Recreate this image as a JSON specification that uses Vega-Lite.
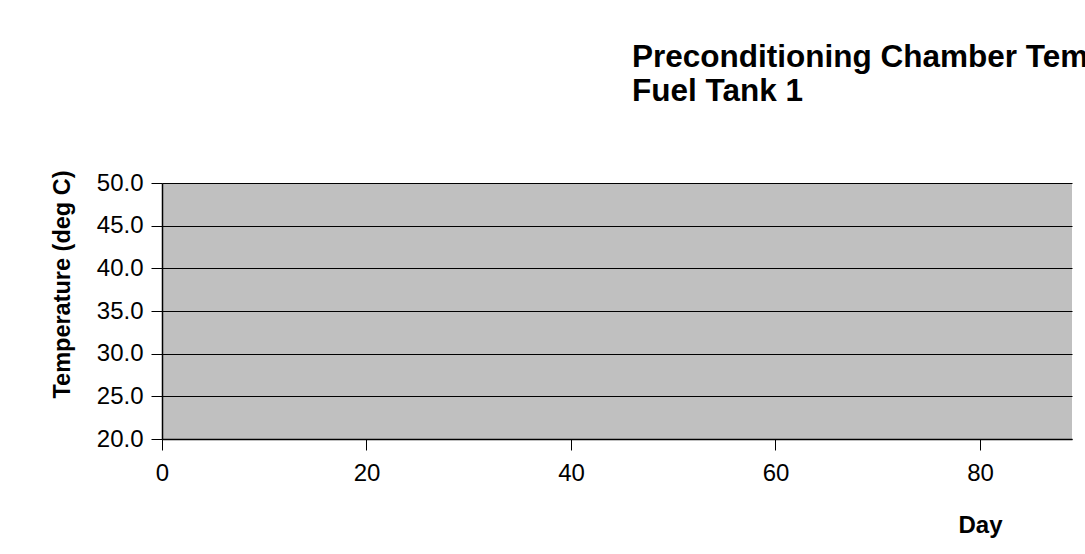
{
  "$schema": "https://vega.github.io/schema/vega-lite/v6.json",
  "width": 910,
  "height": 256,
  "autosize": {"type": "none"},
  "padding": {"left": 162, "top": 183, "right": 13, "bottom": 115},
  "background": "white",
  "title": {
    "text": ["Preconditioning Chamber Temperature", "Fuel Tank 1"],
    "anchor": "start",
    "orient": "top",
    "frame": "group",
    "align": "left",
    "font": "Liberation Sans",
    "fontSize": 31.5,
    "fontWeight": "bold",
    "color": "#000000",
    "lineHeight": 34,
    "baseline": "alphabetic",
    "dx": 470,
    "offset": 37
  },
  "config": {
    "view": {"fill": "#c0c0c0", "stroke": null},
    "axis": {
      "labelFont": "Liberation Sans",
      "labelFontSize": 24,
      "labelColor": "#000000",
      "labelFlush": false,
      "titleFont": "Liberation Sans",
      "titleFontWeight": "bold",
      "titleColor": "#000000",
      "tickColor": "#000000",
      "tickSize": 11,
      "domainColor": "#000000",
      "domainWidth": 1.5,
      "gridColor": "#000000",
      "gridWidth": 1,
      "gridOpacity": 1
    }
  },
  "data": {"values": [{"Day": 0, "Temperature": null}]},
  "mark": {"type": "line", "color": "#004586"},
  "encoding": {
    "x": {
      "field": "Day",
      "type": "quantitative",
      "scale": {"domain": [0, 89], "nice": false, "zero": false},
      "axis": {
        "title": "Day",
        "values": [0, 20, 40, 60, 80],
        "grid": false,
        "labelPadding": 11,
        "titleFontSize": 24,
        "titleX": 818,
        "titleY": 93,
        "titleAlign": "center",
        "titleBaseline": "alphabetic"
      }
    },
    "y": {
      "field": "Temperature",
      "type": "quantitative",
      "scale": {"domain": [20, 50], "nice": false, "zero": false},
      "axis": {
        "title": "Temperature (deg C)",
        "values": [20, 25, 30, 35, 40, 45, 50],
        "format": ".1f",
        "grid": true,
        "labelPadding": 8,
        "titleFontSize": 23.5,
        "titleAngle": -90,
        "titleX": -93,
        "titleY": 101,
        "titleAlign": "center",
        "titleBaseline": "alphabetic"
      }
    }
  }
}
